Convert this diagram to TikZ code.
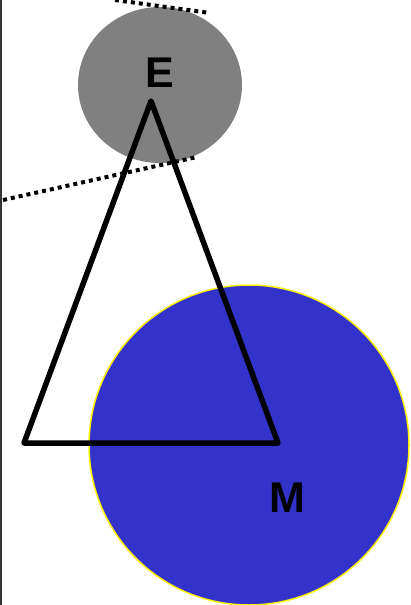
\documentclass[tikz,border=0pt]{standalone}
\usepackage{fontspec}
\setmainfont{Liberation Sans}
\begin{document}
\begin{tikzpicture}[x=1pt,y=-1pt,
  dotline/.style={line width=4pt,dash pattern=on 4pt off 4pt},
  tri/.style={line width=5.5pt,line join=round,line cap=round},
  lbl/.style={font=\fontsize{43}{43}\selectfont\bfseries,inner sep=0pt}]
\useasboundingbox (0,0) rectangle (410,605);
\fill[white] (0,0) rectangle (410,605);
\draw[line width=1.5pt,black!80] (1,0) -- (1,605);
\fill[black!50] (160,85) ellipse [x radius=82,y radius=78];
\draw[dotline] (115,0) -- (210,13);
\draw[dotline] (3,200) -- (197,157);
\fill[fill={rgb,255:red,51;green,51;blue,204},draw=yellow,line width=1.5pt] (249,445) circle [radius=160];
\coordinate (A) at (151,101);
\coordinate (B) at (24,443);
\coordinate (C) at (278,443);
\draw[tri] (A) -- (B) -- (C) -- cycle;
\node[lbl] (E) at (160,73) {E};
\node[lbl] (M) at (287,498) {M};
\end{tikzpicture}
\end{document}
